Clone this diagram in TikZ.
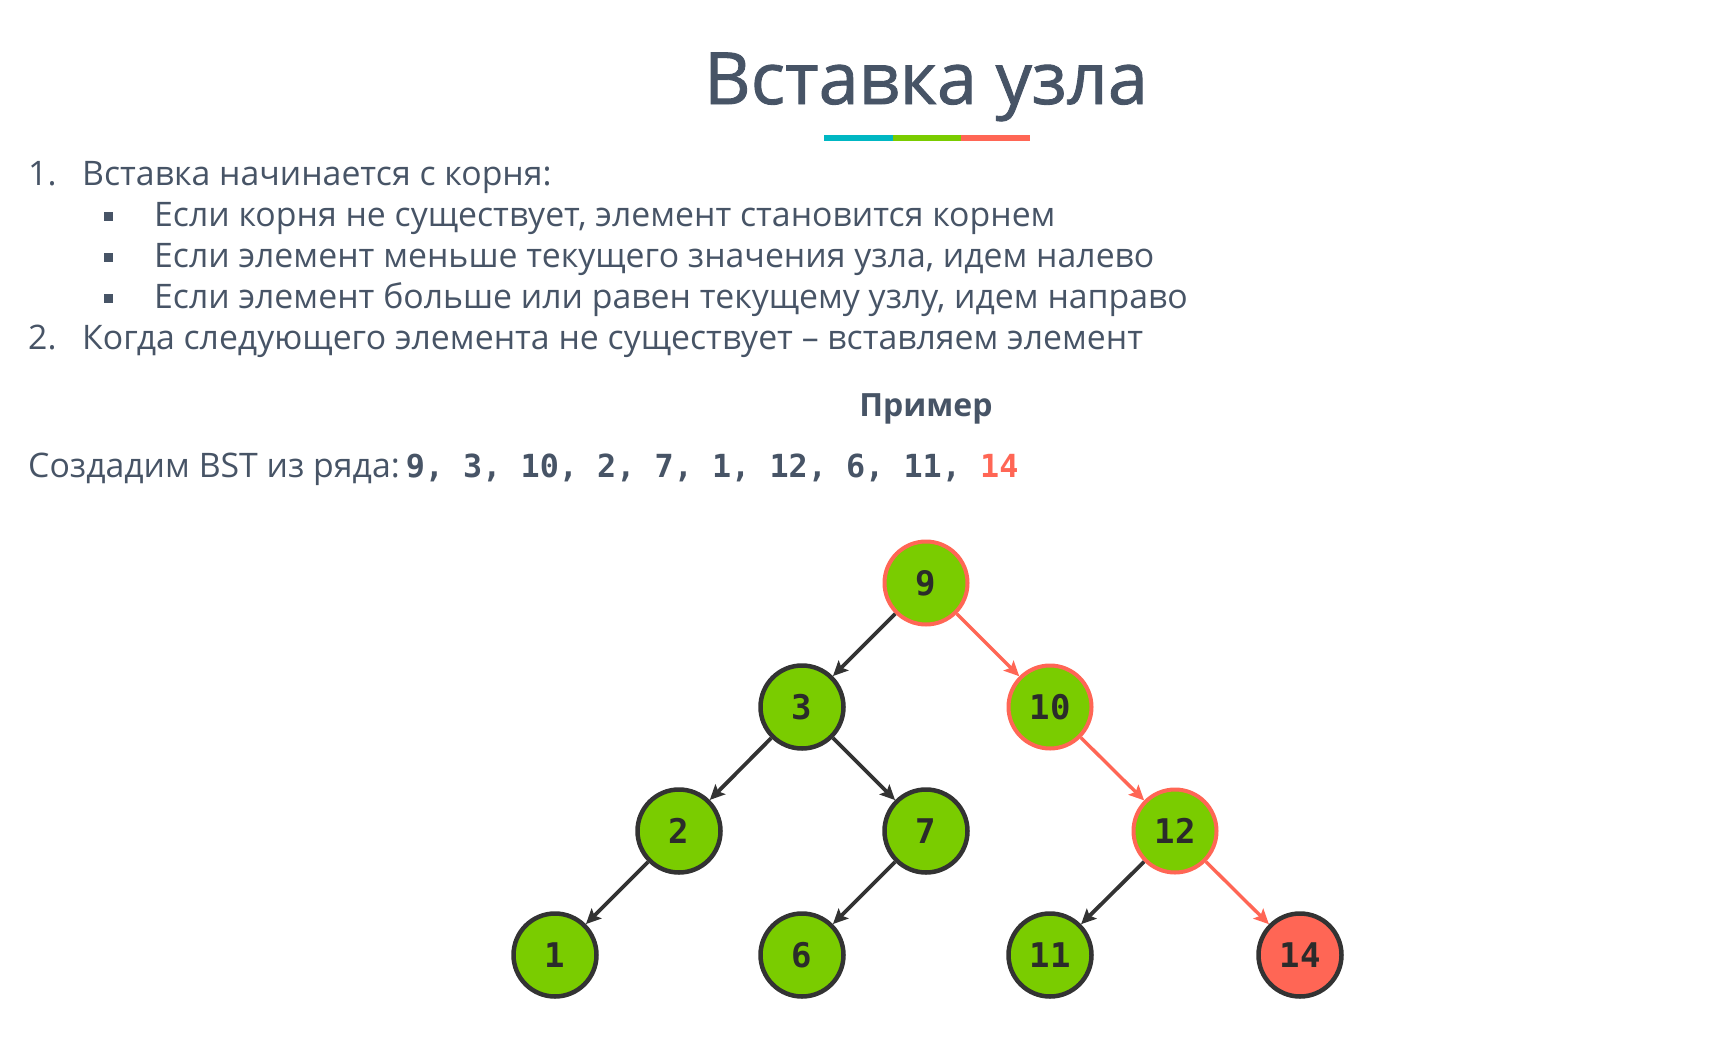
\documentclass[tikz,border=0pt]{standalone}
\usepackage{fontspec}
\setmainfont{Open Sans}
\setmonofont{DejaVu Sans Mono}
\newfontfamily\headfont[FakeBold=1.2]{Open Sans}
\usetikzlibrary{arrows.meta}

\definecolor{slate}{HTML}{475466}
\definecolor{numdark}{HTML}{2B2B2B}
\definecolor{edgedark}{HTML}{333333}
\definecolor{leafgreen}{HTML}{7ACC00}
\definecolor{pathred}{HTML}{FF6655}
\definecolor{barteal}{HTML}{00B7C3}

\begin{document}
\begin{tikzpicture}[x=1pt,y=-1pt,
    txt/.style={anchor=base west,inner sep=0pt,text=slate,font=\fontsize{33.8}{38}\selectfont},
    vert/.style={circle,minimum size=83pt,inner sep=0pt,fill=leafgreen,draw=edgedark,line width=4.5pt,
      text=numdark,font=\fontsize{34}{38}\selectfont\ttfamily\bfseries},
    onpath/.style={vert,draw=pathred,line width=4pt},
    newvert/.style={vert,fill=pathred},
    link/.style={draw=edgedark,line width=3.8pt,-{Stealth[length=15pt,width=14pt,inset=3pt]}},
    pathlink/.style={link,draw=pathred,line width=3.4pt},
    dot/.style={rectangle,fill=slate,minimum size=9pt,inner sep=0pt}]
  \useasboundingbox (0,0) rectangle (1715,1049);

  % title and coloured bar
  \node[anchor=base,inner sep=0pt,text=slate,font=\fontsize{72}{80}\selectfont\headfont] (title) at (926,104) {Вставка узла};
  \fill[barteal]   (824,135) rectangle (893,141);
  \fill[leafgreen] (893,135) rectangle (961,141);
  \fill[pathred]   (961,135) rectangle (1030,141);

  % the rules
  \node[txt] (num1) at (28,185) {1.};
  \node[txt] (rule1) at (82,185) {Вставка начинается с корня:};
  \node[dot] (b1) at (108,216) {};
  \node[txt] (sub1) at (154,226) {Если корня не существует, элемент становится корнем};
  \node[dot] (b2) at (108,257) {};
  \node[txt] (sub2) at (154,267) {Если элемент меньше текущего значения узла, идем налево};
  \node[dot] (b3) at (108,298) {};
  \node[txt] (sub3) at (154,308) {Если элемент больше или равен текущему узлу, идем направо};
  \node[txt] (num2) at (28,349) {2.};
  \node[txt] (rule2) at (82,349) {Когда следующего элемента не существует – вставляем элемент};

  % example
  \node[anchor=base,inner sep=0pt,text=slate,font=\fontsize{32}{36}\selectfont\bfseries] (ex) at (926,416) {Пример};
  \node[txt] (series) at (28,477) {Создадим BST из ряда:\hspace{6pt}{\fontsize{31.8}{36}\selectfont\ttfamily\bfseries 9, 3, 10, 2, 7, 1, 12, 6, 11, \textcolor{pathred}{14}}};

  % the tree
  \node[onpath] (n9) at (926,583) {9};
  \node[vert] (n3) at (802,707) {3};
  \node[onpath] (n10) at (1050,707) {10};
  \node[vert] (n2) at (679,831) {2};
  \node[vert] (n7) at (926,831) {7};
  \node[onpath] (n12) at (1175,831) {12};
  \node[vert] (n1) at (555,955) {1};
  \node[vert] (n6) at (802,955) {6};
  \node[vert] (n11) at (1050,955) {11};
  \node[newvert] (n14) at (1300,955) {14};

  \draw[link] (n9) -- (n3);
  \draw[pathlink] (n9) -- (n10);
  \draw[link] (n3) -- (n2);
  \draw[link] (n3) -- (n7);
  \draw[pathlink] (n10) -- (n12);
  \draw[link] (n2) -- (n1);
  \draw[link] (n7) -- (n6);
  \draw[link] (n12) -- (n11);
  \draw[pathlink] (n12) -- (n14);

\end{tikzpicture}
\end{document}
